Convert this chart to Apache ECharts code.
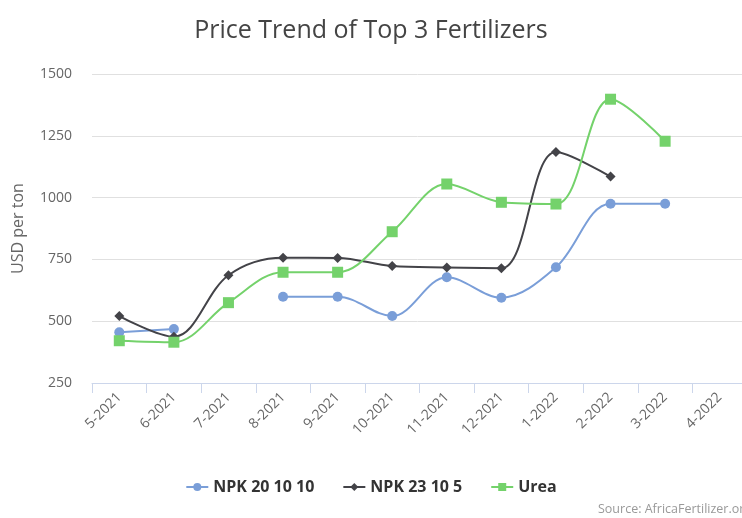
<!DOCTYPE html>
<html>
<head>
<meta charset="utf-8">
<title>Price Trend of Top 3 Fertilizers</title>
<script src="https://cdn.jsdelivr.net/npm/echarts@6/dist/echarts.min.js"></script>
<style>
  html, body { margin: 0; padding: 0; background: #fff; }
  #chart { width: 742px; height: 518px; }
</style>
</head>
<body>
<div id="chart"></div>
<script>
var months = ['5-2021', '6-2021', '7-2021', '8-2021', '9-2021', '10-2021', '11-2021', '12-2021', '1-2022', '2-2022', '3-2022', '4-2022']
var npk201010 = [455, 468, null, 599, 599, 521, 678, 595, 718, 975, 975, null]
var npk23105 = [521, 437, 686, 757, 756, 723, 717, 714, 1184, 1085, null, null]
var urea = [421, 415, 575, 698, 698, 862, 1055, 981, 974, 1398, 1228, null]
var yTicks = [250, 500, 750, 1000, 1250, 1500]

var chart = echarts.init(document.getElementById('chart'))

function lineSeries (name, data, color, symbol) {
  return {
    name: name,
    type: 'line',
    data: data,
    smooth: 0.35,
    symbol: symbol,
    symbolSize: symbol === 'rect' ? 11 : 10,
    connectNulls: false,
    itemStyle: { color: color },
    lineStyle: { color: color, width: 2 },
    emphasis: { disabled: true }
  }
}

chart.setOption({
  animation: false,
  textStyle: { fontFamily: '"Open Sans", "DejaVu Sans", sans-serif' },
  title: {
    text: 'Price Trend of Top 3 Fertilizers',
    left: 'center',
    top: 13,
    textStyle: {
      color: '#444',
      fontSize: 25,
      fontWeight: 'normal'
    }
  },
  legend: {
    bottom: 18,
    left: 'center',
    itemWidth: 22,
    itemHeight: 10,
    itemGap: 28,
    textStyle: {
      color: '#333',
      fontSize: 16,
      fontWeight: 'bold'
    },
    data: ['NPK 20 10 10', 'NPK 23 10 5', 'Urea']
  },
  grid: {
    left: 92,
    right: -5,
    top: 74,
    bottom: 135,
    containLabel: false,
    outerBoundsMode: 'none'
  },
  xAxis: {
    type: 'category',
    data: months,
    boundaryGap: true,
    axisLine: { lineStyle: { color: '#ccd6eb', width: 1 } },
    axisTick: { show: true, length: 10, lineStyle: { color: '#ccd6eb' } },
    axisLabel: {
      rotate: 45,
      interval: 0,
      margin: 12,
      color: '#666',
      fontSize: 14
    }
  },
  yAxis: {
    type: 'value',
    min: yTicks[0],
    max: yTicks[yTicks.length - 1],
    interval: 250,
    name: 'USD per ton',
    nameLocation: 'middle',
    nameRotate: 90,
    nameGap: 66,
    nameTextStyle: { color: '#666', fontSize: 16 },
    axisLine: { show: false },
    axisTick: { show: false },
    axisLabel: {
      color: '#666',
      fontSize: 14,
      margin: 20,
      formatter: function (val) {
        return val + ''
      }
    },
    splitLine: { lineStyle: { color: '#e0e0e0', width: 1 } }
  },
  graphic: [
    {
      type: 'text',
      left: 598,
      top: 503,
      style: {
        text: 'Source: AfricaFertilizer.org',
        fill: '#999',
        fontSize: 12.5,
        fontFamily: '"Open Sans", "DejaVu Sans", sans-serif'
      }
    }
  ],
  series: [
    lineSeries('NPK 20 10 10', npk201010, '#7a9ed8', 'circle'),
    lineSeries('NPK 23 10 5', npk23105, '#434348', 'diamond'),
    lineSeries('Urea', urea, '#74d26b', 'rect')
  ]
})
</script>
</body>
</html>
